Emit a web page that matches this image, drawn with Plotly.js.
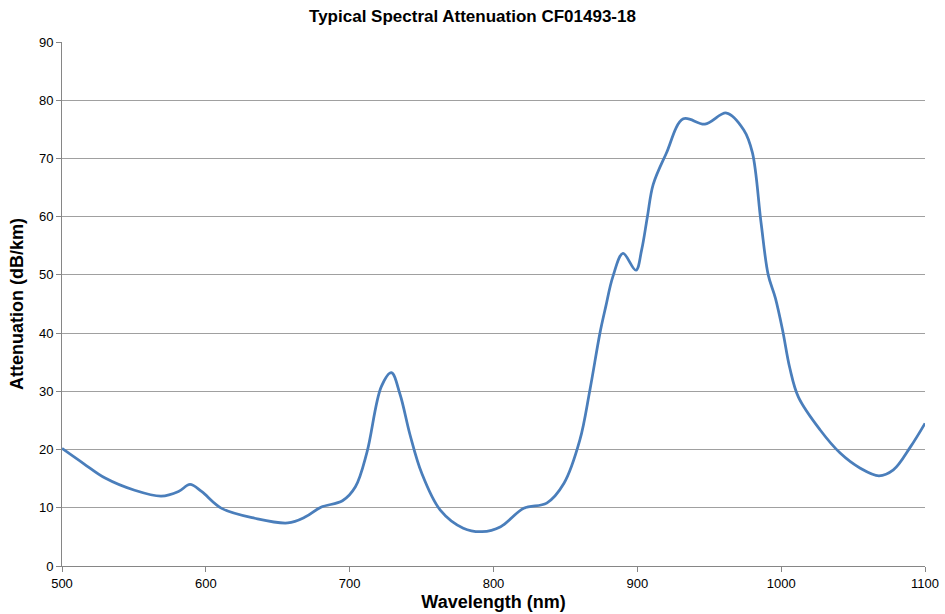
<!DOCTYPE html>
<html>
<head>
<meta charset="utf-8">
<script src="https://cdn.plot.ly/plotly-3.0.1.min.js"></script>
<style>html,body{margin:0;padding:0;background:#fff}#chart{width:945px;height:614px}</style>
</head>
<body>
<div id="chart"></div>
<script>
const wavelength = [500,515,530,550,569,581,589,597,611,634,657,669,680,695,704,712,722,729,735,742,750,763,779,792,805,821,837,849,860,867,874,878,883,890,899,903,907,911,920,932,947,962,974,980,986,991,996,1001,1006,1012,1027,1041,1055,1068,1078,1090,1100];
const attenuation = [20.2,17.6,15.1,13.05,12.0,12.8,14.0,12.8,9.9,8.2,7.4,8.4,10.1,11.2,13.6,19.5,30.8,33.2,29.5,22.5,16.0,9.6,6.5,5.9,6.75,9.9,10.8,14.2,21.6,30.2,40,44.5,49.7,53.7,50.8,54.3,60,65.5,70.8,76.8,75.9,77.8,74.9,71,59,50,46,40.5,34,29,23.4,19.4,16.8,15.5,16.5,20.5,24.5];
const xTicks = [500,600,700,800,900,1000,1100];
const yTicks = [0,10,20,30,40,50,60,70,80,90];

const trace = {
  x: wavelength, y: attenuation, type: 'scatter', mode: 'lines',
  line: {color: '#4a7ebb', width: 2.75, shape: 'spline', smoothing: 1},
  hoverinfo: 'x+y'
};
const layout = {
  width: 945, height: 614,
  margin: {l: 62, r: 20, t: 42, b: 48},
  paper_bgcolor: '#fff', plot_bgcolor: '#fff',
  font: {family: 'Liberation Sans, Arial, sans-serif', color: '#000', size: 13},
  title: {text: '<b>Typical Spectral Attenuation CF01493-18</b>', font: {size: 17, color: '#000'}, x: 0.5, xanchor: 'center', y: 0.974, yanchor: 'middle'},
  showlegend: false,
  xaxis: {
    range: [500, 1100], tickvals: xTicks, ticktext: xTicks.map(String),
    showgrid: false, zeroline: false, showline: true, linecolor: '#868686', linewidth: 1,
    ticks: 'outside', ticklen: 5, tickcolor: '#868686',
    tickfont: {size: 13, color: '#000'},
    title: {text: '<b>Wavelength (nm)</b>', font: {size: 18, color: '#000'}, standoff: 5}
  },
  yaxis: {
    range: [0, 90], tickvals: yTicks, ticktext: yTicks.map(String),
    showgrid: true, gridcolor: '#a0a0a0', gridwidth: 1, zeroline: false,
    showline: true, linecolor: '#868686', linewidth: 1,
    ticks: 'outside', ticklen: 5, tickcolor: '#868686',
    tickfont: {size: 13, color: '#000'},
    title: {text: '<b>Attenuation (dB/km)</b>', font: {size: 18, color: '#000'}, standoff: 10}
  }
};
Plotly.newPlot('chart', [trace], layout, {displayModeBar: false, staticPlot: true});
</script>
</body>
</html>
